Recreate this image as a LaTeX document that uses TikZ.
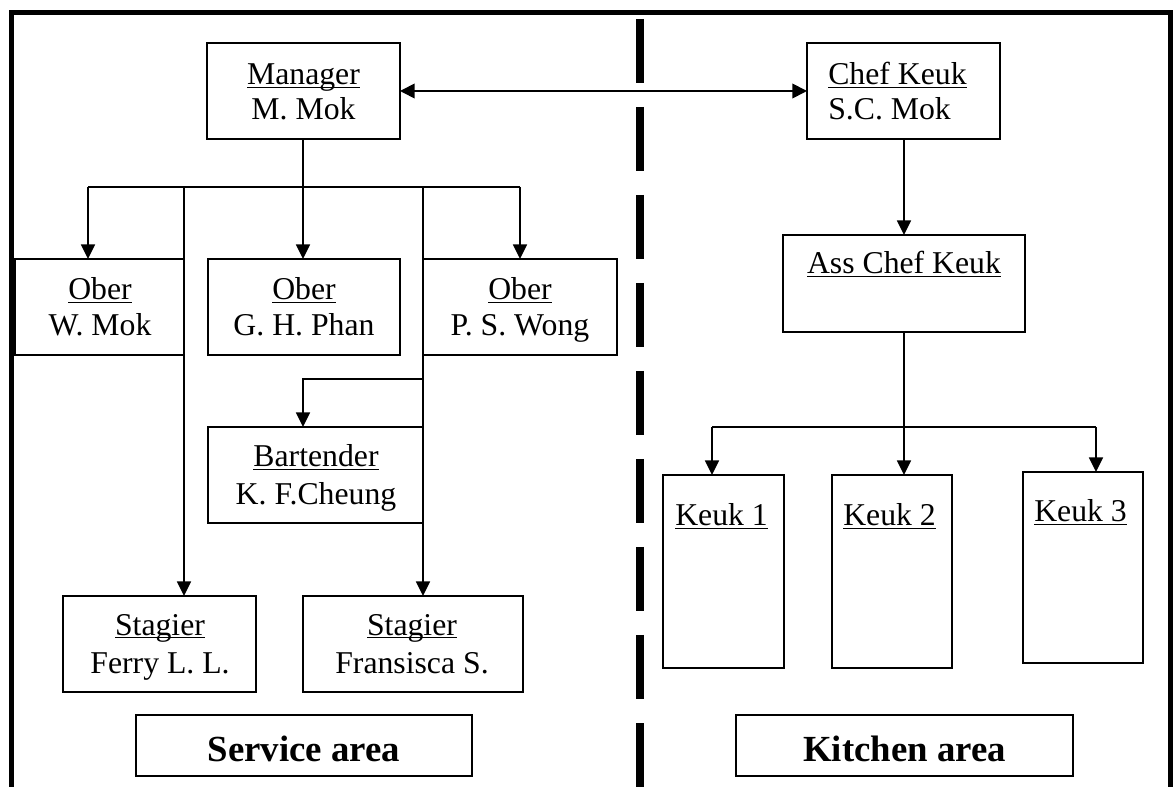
\documentclass[tikz,border=0pt]{standalone}
\usepackage{fontspec}
\setmainfont{Liberation Serif}
\usetikzlibrary{arrows.meta,fit}
\newcommand\ulw[1]{\setbox0=\hbox{#1}\rlap{\rule[-2.6pt]{\wd0}{1.4pt}}\box0}
\begin{document}
\begin{tikzpicture}[x=0.75pt,y=-0.75pt,
  box/.style={draw, line width=1.3pt, inner sep=0pt, outer sep=0pt, rectangle},
  lbl/.style={inner sep=0pt, anchor=base, font=\fontsize{23.8}{28}\selectfont},
  lbll/.style={lbl, anchor=base west},
  areatxt/.style={inner sep=0pt, anchor=base, font=\fontsize{27.6}{32}\selectfont\bfseries},
  conn/.style={line width=1.3pt},
  arr/.style={conn, -{Triangle[length=11pt,width=10.5pt]}},
  darr/.style={conn, {Triangle[length=11pt,width=11pt]}-{Triangle[length=11pt,width=11pt]}},
  frame/.style={line width=3.75pt, line join=miter},
  divider/.style={line width=6pt, dash pattern=on 48pt off 18pt}]
\useasboundingbox (0,0) rectangle (1175,787);
\fill[white] (0,0) rectangle (1175,787);

% frame and divider
\draw[frame] (11.5,787) -- (11.5,12.5) -- (1170.5,12.5) -- (1170.5,787);
\draw[divider] (640,19) -- (640,787);

% boxes
\node[box, fit={(207,43)(400,139)}] (mgr) {};
\node[box, fit={(807,43)(1000,139)}] (chef) {};
\node[box, fit={(15,259)(184,355)}] (ober1) {};
\node[box, fit={(208,259)(400,355)}] (ober2) {};
\node[box, fit={(423,259)(617,355)}] (ober3) {};
\node[box, fit={(208,427)(423,523)}] (bar) {};
\node[box, fit={(63,596)(256,692)}] (stag1) {};
\node[box, fit={(303,596)(523,692)}] (stag2) {};
\node[box, fit={(783,235)(1025,332)}] (ass) {};
\node[box, fit={(663,475)(784,668)}] (keuk1) {};
\node[box, fit={(832,475)(952,668)}] (keuk2) {};
\node[box, fit={(1023,472)(1143,663)}] (keuk3) {};
\node[box, fit={(136,715)(472,776)}] (service) {};
\node[box, fit={(736,715)(1073,776)}] (kitchen) {};

% texts
\node[lbl] (mgrA) at (303.5,85) {\ulw{Manager}};
\node[lbl] (mgrB) at (303.5,120) {M. Mok};
\node[lbll] (chefA) at (828,85) {\ulw{Chef Keuk}};
\node[lbll] (chefB) at (828,120) {S.C. Mok};
\node[lbl] (ober1A) at (100,300) {\ulw{Ober}};
\node[lbl] (ober1B) at (100,336) {W. Mok};
\node[lbl] (ober2A) at (304,300) {\ulw{Ober}};
\node[lbl] (ober2B) at (304,336) {G. H. Phan};
\node[lbl] (ober3A) at (520,300) {\ulw{Ober}};
\node[lbl] (ober3B) at (520,336) {P. S. Wong};
\node[lbl] (barA) at (316,467) {\ulw{Bartender}};
\node[lbl] (barB) at (316,505) {K. F.Cheung};
\node[lbl] (stag1A) at (160,635) {\ulw{Stagier}};
\node[lbl] (stag1B) at (160,673) {Ferry L. L.};
\node[lbl] (stag2A) at (412,635) {\ulw{Stagier}};
\node[lbl] (stag2B) at (412,673) {Fransisca S.};
\node[lbl] (assA) at (904,274) {\ulw{Ass Chef Keuk}};
\node[lbll] (keuk1A) at (675,526) {\ulw{Keuk 1}};
\node[lbll] (keuk2A) at (843,526) {\ulw{Keuk 2}};
\node[lbll] (keuk3A) at (1034,522) {\ulw{Keuk 3}};
\node[areatxt] (serviceA) at (304,761) {Service area};
\node[areatxt] (kitchenA) at (904.5,761) {Kitchen area};

% service connectors
\coordinate (mj) at (303,187);
\coordinate (w1) at (88,187);
\coordinate (s1) at (184,187);
\coordinate (s2) at (423,187);
\coordinate (w3) at (520,187);
\coordinate (bj) at (423,379);
\coordinate (bt) at (303,379);
\draw[conn] (mgr.south -| mj) -- (mj);
\draw[conn] (w1) -- (w3);
\draw[arr] (w1) -- (w1 |- ober1.north);
\draw[arr] (mj) -- (mj |- ober2.north);
\draw[arr] (w3) -- (w3 |- ober3.north);
\draw[arr] (s1) -- (s1 |- stag1.north);
\draw[arr] (s2) -- (s2 |- stag2.north);
\draw[arr] (bj) -- (bt) -- (bt |- bar.north);

% manager <-> chef
\draw[darr] (mgr.east) -- (chef.west);

% kitchen connectors
\coordinate (kj) at (904,427);
\coordinate (k1) at (712,427);
\coordinate (k3) at (1096,427);
\draw[arr] (chef.south -| kj) -- (ass.north -| kj);
\draw[conn] (ass.south -| kj) -- (kj);
\draw[conn] (k1) -- (k3);
\draw[arr] (k1) -- (k1 |- keuk1.north);
\draw[arr] (kj) -- (kj |- keuk2.north);
\draw[arr] (k3) -- (k3 |- keuk3.north);
\end{tikzpicture}
\end{document}
